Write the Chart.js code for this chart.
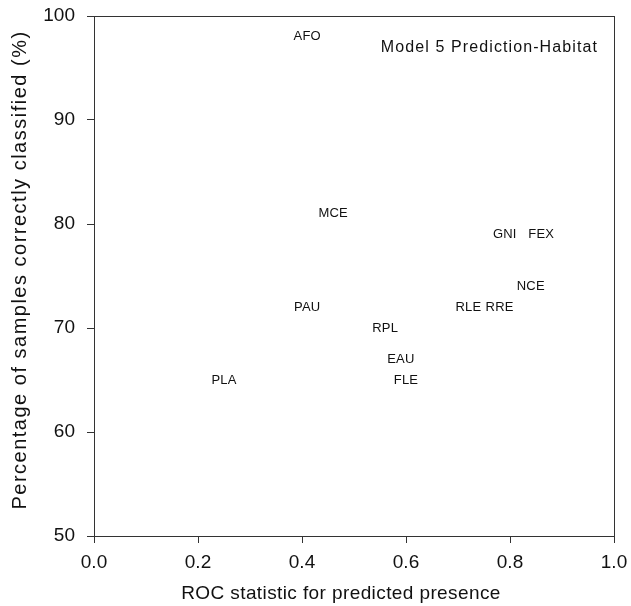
<!DOCTYPE html>
<html>
<head>
<meta charset="utf-8">
<script src="https://cdn.jsdelivr.net/npm/chart.js@4.4.0/dist/chart.umd.min.js"></script>
<style>
  html, body { margin: 0; padding: 0; background: #fff; }
  #wrap { width: 631px; height: 606px; }
</style>
</head>
<body>
<div id="wrap"><canvas id="chart" width="631" height="606"></canvas></div>
<script>
// species codes, ROC statistic and % correctly classified
const species = ['AFO', 'MCE', 'GNI', 'FEX', 'NCE', 'PAU', 'RLE', 'RRE', 'RPL', 'EAU', 'FLE', 'PLA'];
const rocValues = [0.41, 0.46, 0.79, 0.86, 0.84, 0.41, 0.72, 0.78, 0.56, 0.59, 0.60, 0.25];
const pctValues = [98, 81, 79, 79, 74, 72, 72, 72, 70, 67, 65, 65];
const xTicks = [0, 0.2, 0.4, 0.6, 0.8, 1.0];
const yTicks = [50, 60, 70, 80, 90, 100];

const FONT = 'Arial, "Liberation Sans", sans-serif';

// draws each species code at its point, the frame, the panel label and axis titles
const labelPlugin = {
  id: 'labels',
  afterDatasetsDraw(chart) {
    const ctx = chart.ctx;
    const meta = chart.getDatasetMeta(0);
    ctx.save();
    ctx.fillStyle = '#111';
    ctx.font = '13px ' + FONT;
    ctx.textAlign = 'center';
    ctx.textBaseline = 'middle';
    ctx.letterSpacing = '0.2px';
    meta.data.forEach((pt, i) => {
      ctx.fillText(species[i], pt.x, pt.y);
    });
    const a = chart.chartArea;
    ctx.strokeStyle = '#333';
    ctx.lineWidth = 1;
    ctx.strokeRect(a.left + 0.5, a.top + 0.5, a.right - a.left, a.bottom - a.top);

    ctx.font = '16px ' + FONT;
    ctx.letterSpacing = '1.1px';
    ctx.textAlign = 'right';
    ctx.fillText('Model 5 Prediction-Habitat', 598, 47.5);

    // axis titles
    ctx.textAlign = 'center';
    ctx.font = '19px ' + FONT;
    ctx.letterSpacing = '0.4px';
    ctx.fillText('ROC statistic for predicted presence', 341, 594);

    ctx.translate(20, 270);
    ctx.rotate(-Math.PI / 2);
    ctx.font = '20px ' + FONT;
    ctx.letterSpacing = '1.5px';
    ctx.fillText('Percentage of samples correctly classified (%)', 0, 0);
    ctx.restore();
  }
};

new Chart(document.getElementById('chart'), {
  type: 'scatter',
  data: {
    datasets: [{
      data: rocValues.map((x, i) => ({ x: x, y: pctValues[i] })),
      pointRadius: 0,
      pointHoverRadius: 0
    }]
  },
  options: {
    responsive: false,
    animation: false,
    layout: { padding: { left: 0, right: 17, top: 16, bottom: 0 } },
    plugins: { legend: { display: false }, tooltip: { enabled: false } },
    scales: {
      x: {
        type: 'linear',
        min: 0, max: 1,
        afterBuildTicks: (s) => { s.ticks = xTicks.map(v => ({ value: v })); },
        afterFit: (s) => { s.height = 70; s.paddingLeft = 0; s.paddingRight = 0; },
        grid: { drawOnChartArea: false, tickLength: 7, color: '#333' },
        border: { color: '#333' },
        ticks: {
          color: '#111', padding: 8,
          font: { family: FONT, size: 19 },
          callback: (v) => v.toFixed(1)
        }
      },
      y: {
        type: 'linear',
        min: 50, max: 100,
        afterBuildTicks: (s) => { s.ticks = yTicks.map(v => ({ value: v })); },
        afterFit: (s) => { s.width = 94; s.paddingTop = 0; s.paddingBottom = 0; },
        grid: { drawOnChartArea: false, tickLength: 7, color: '#333' },
        border: { color: '#333' },
        ticks: {
          color: '#111', padding: 12,
          font: { family: FONT, size: 19 }
        }
      }
    }
  },
  plugins: [labelPlugin]
});
</script>
</body>
</html>
